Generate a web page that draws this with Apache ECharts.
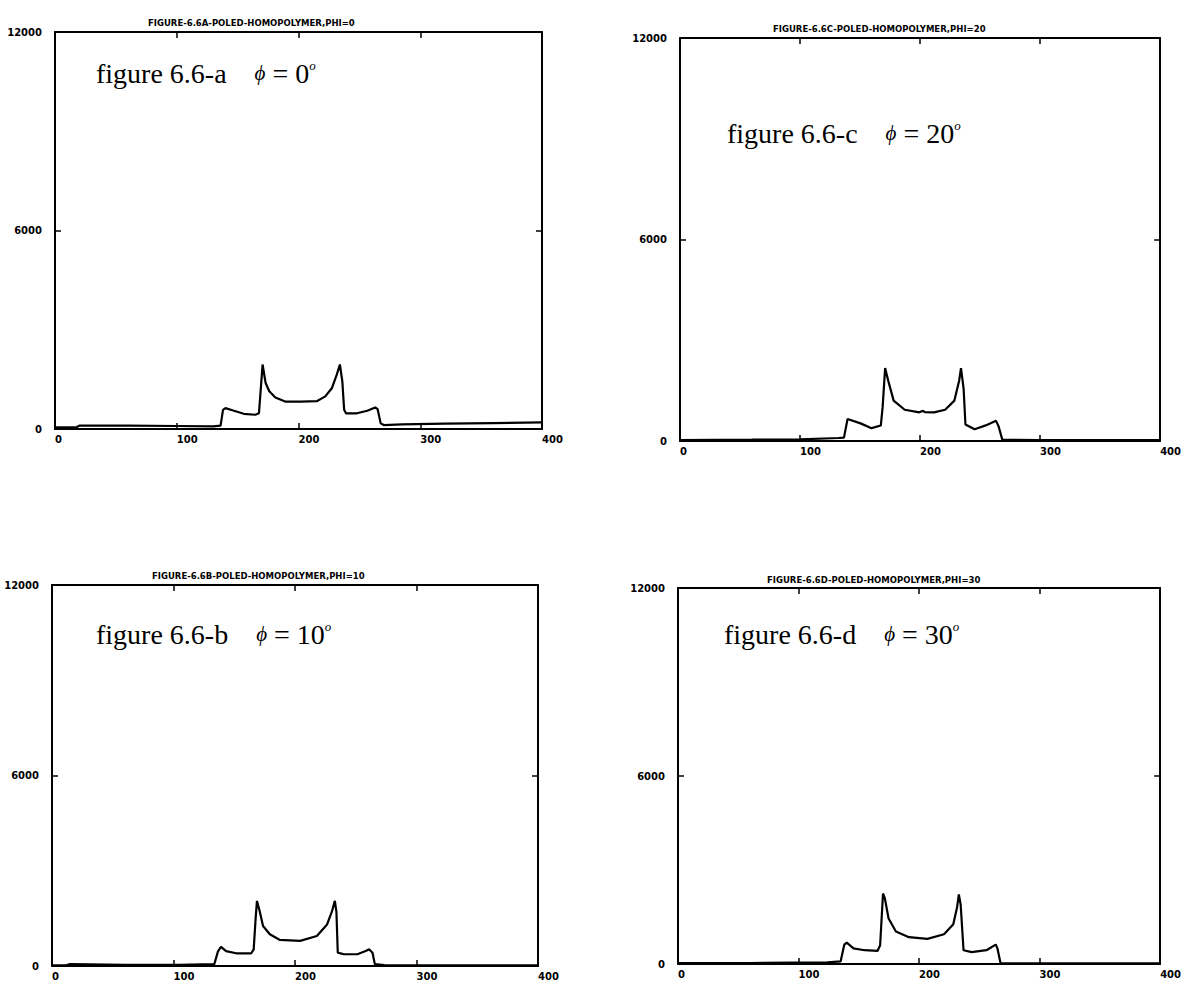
<!DOCTYPE html>
<html>
<head>
<meta charset="utf-8">
<title>Poled homopolymer spectra</title>
<script src="https://cdn.jsdelivr.net/npm/echarts@6/dist/echarts.min.js"></script>
<style>
  html, body { margin: 0; padding: 0; background: #fff; }
  #chart { width: 1184px; height: 984px; }
</style>
</head>
<body>
<div id="chart"></div>
<script>
// Spectrum intensity vs. channel, one trace per rotation angle phi.
const phi0 = [[0,50],[18,60],[20,100],[60,100],[100,90],[130,80],[136,100],[138,580],[140,630],[147,550],[155,460],[164.5,430],[167.5,475],[169,1200],[170.5,1950],[173,1390],[176,1140],[181,955],[189,830],[202,830],[215,840],[222,985],[227.5,1240],[231.5,1650],[234,1950],[236,1440],[237.5,580],[239,475],[248,475],[256.5,550],[263,650],[265,600],[267.5,170],[270,120],[285,140],[320,160],[360,180],[400,200]];
const phi10 = [[0,20],[12,30],[15,60],[60,40],[104,40],[133.6,60],[136.5,450],[139.1,600],[143.3,470],[151.5,400],[164,400],[166,525],[167.6,1500],[168.7,2050],[170.9,1730],[173.7,1260],[179.3,1000],[187.6,820],[204.2,790],[218,945],[226.4,1310],[230.5,1730],[232.8,2050],[234.1,1700],[235.2,420],[240.2,370],[251.3,370],[258.2,470],[261,525],[263.8,420],[265.7,60],[273.5,30],[330,20],[400,20]];
const phi20 = [[0,30],[60,40],[100,50],[132,90],[136.6,100],[139.6,656],[150.4,525],[159.6,383],[167.3,460],[168.8,1000],[170.9,2170],[173.4,1805],[178,1203],[187.2,930],[199.4,853],[202.5,900],[204,860],[211.7,853],[220.9,930],[228.6,1203],[232.6,1805],[234.1,2170],[236.3,1550],[237.8,492],[245.5,350],[254.7,465],[263.3,600],[265.4,438],[268.5,40],[300,30],[400,30]];
const phi30 = [[0,25],[60,30],[124,50],[134.9,83],[138,620],[140,680],[145.6,500],[154.8,440],[165.5,417],[167.7,600],[170.1,2250],[171.6,2100],[174.7,1450],[180.8,1035],[191.6,857],[206.9,800],[220.7,950],[228.4,1270],[231.5,1800],[233,2220],[234.5,1900],[236.9,440],[243.7,380],[255.9,440],[263.6,620],[265,500],[267.6,25],[300,20],[400,20]];

const plotTitles = [
  'FIGURE-6.6A-POLED-HOMOPOLYMER,PHI=0',
  'FIGURE-6.6C-POLED-HOMOPOLYMER,PHI=20',
  'FIGURE-6.6B-POLED-HOMOPOLYMER,PHI=10',
  'FIGURE-6.6D-POLED-HOMOPOLYMER,PHI=30'
];
const figureNames = ['figure 6.6-a', 'figure 6.6-c', 'figure 6.6-b', 'figure 6.6-d'];
const phiLabels = ['0', '20', '10', '30'];
const traces = [phi0, phi20, phi10, phi30];

const xMin = 0, xMax = 400, xStep = 100;
const yMin = 0, yMax = 12000, yStep = 6000;

// Panel frames in pixels: top row a / c, bottom row b / d
const frames = [
  { left: 55,  top: 32,  width: 487, height: 397 },
  { left: 680, top: 38,  width: 484, height: 403 },
  { left: 52,  top: 585, width: 486, height: 381 },
  { left: 678, top: 588, width: 486, height: 376 }
];
const titlePos = [
  { left: 143, top: 13 },
  { left: 768, top: 19 },
  { left: 147, top: 566 },
  { left: 762, top: 570 }
];
const notePos = [
  { left: 91,  top: 54 },
  { left: 722, top: 114 },
  { left: 91,  top: 615 },
  { left: 719, top: 615 }
];

const ink = '#000';
const tickFont = { fontFamily: 'DejaVu Sans', fontWeight: 'bold', fontSize: 10, color: ink };

const grid = [], xAxis = [], yAxis = [], series = [], title = [];

frames.forEach((f, i) => {
  grid.push({ left: f.left, top: f.top, width: f.width, height: f.height, show: false, containLabel: false });

  const axLine = { show: true, onZero: false, lineStyle: { color: ink, width: 2 } };
  const axTick = { show: true, inside: true, length: 6, lineStyle: { color: ink, width: 1.5 } };

  xAxis.push({
    type: 'value', gridIndex: i, min: xMin, max: xMax, interval: xStep, position: 'bottom',
    axisLine: axLine, axisTick: axTick, splitLine: { show: false },
    axisLabel: Object.assign({ show: true, margin: 5, align: 'left', formatter: v => String(v) }, tickFont)
  });
  xAxis.push({
    type: 'value', gridIndex: i, min: xMin, max: xMax, interval: xStep, position: 'top',
    axisLine: axLine, axisTick: axTick, splitLine: { show: false }, axisLabel: { show: false }
  });
  yAxis.push({
    type: 'value', gridIndex: i, min: yMin, max: yMax, interval: yStep, position: 'left',
    axisLine: axLine, axisTick: axTick, splitLine: { show: false },
    axisLabel: Object.assign({ show: true, margin: 13, formatter: v => String(v) }, tickFont)
  });
  yAxis.push({
    type: 'value', gridIndex: i, min: yMin, max: yMax, interval: yStep, position: 'right',
    axisLine: axLine, axisTick: axTick, splitLine: { show: false }, axisLabel: { show: false }
  });

  series.push({
    type: 'line', xAxisIndex: 2 * i, yAxisIndex: 2 * i,
    data: traces[i], showSymbol: false, smooth: false, animation: false,
    lineStyle: { color: ink, width: 2.2 }
  });

  title.push({
    text: plotTitles[i], left: titlePos[i].left, top: titlePos[i].top,
    textStyle: { fontFamily: 'DejaVu Sans', fontWeight: 'bold', fontSize: 8.5, color: ink }
  });
  title.push({
    text: '{n|' + figureNames[i] + '}{g| }{p|\u03D5}{n| = ' + phiLabels[i] + '}{s|o}',
    left: notePos[i].left, top: notePos[i].top,
    textStyle: {
      rich: {
        n: { fontFamily: 'Liberation Serif', fontWeight: 'normal', fontSize: 28, color: ink },
        g: { fontFamily: 'Liberation Serif', fontWeight: 'normal', fontSize: 28, width: 28 },
        p: { fontFamily: 'Liberation Serif', fontWeight: 'normal', fontStyle: 'italic', fontSize: 21, color: ink },
        s: { fontFamily: 'Liberation Serif', fontWeight: 'normal', fontStyle: 'italic', fontSize: 13, color: ink, verticalAlign: 'top' }
      }
    }
  });
});

const chart = echarts.init(document.getElementById('chart'), null, { renderer: 'svg' });
chart.setOption({
  backgroundColor: '#fff',
  animation: false,
  title, grid, xAxis, yAxis, series
});
</script>
</body>
</html>
